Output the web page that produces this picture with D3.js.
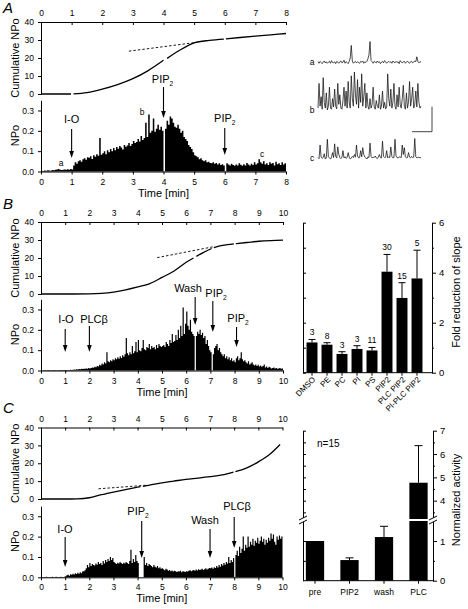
<!DOCTYPE html>
<html><head><meta charset="utf-8">
<script src="https://cdn.jsdelivr.net/npm/d3@7"></script>
<style>
body{margin:0;background:#fff}
svg{display:block}
text{font-family:"Liberation Sans",Arial,Helvetica,sans-serif;fill:#000}
</style>
</head><body>
<svg id="chart" width="468" height="609"></svg>
<script>
// ---------------- DATA ----------------
const binMin = 0.05; // bin width of NPo histograms (min)

const npoA = [
0.004,0.003,0.005,0.004,0.006,0.005,0.004,0.007,0.006,0.008,0.010,0.012,0.009,0.007,0.008,0.010,0.009,0.011,0.008,0.012,
0.010,0.030,0.045,0.038,0.050,0.055,0.048,0.060,0.065,0.058,0.070,0.068,0.075,0.062,0.080,0.072,0.085,0.078,0.165,0.082,
0.090,0.100,0.085,0.105,0.095,0.110,0.100,0.115,0.105,0.120,0.112,0.125,0.118,0.108,0.130,0.122,0.128,0.140,0.125,0.135,
0.150,0.140,0.145,0.160,0.148,0.175,0.155,0.165,0.240,0.170,0.280,0.190,0.200,0.260,0.195,0.210,0.230,0.205,0.220,0.200,
0.000,0.210,0.250,0.230,0.270,0.260,0.240,0.220,0.215,0.230,0.210,0.190,0.200,0.170,0.160,0.150,0.130,0.120,0.110,0.095,
0.080,0.075,0.070,0.060,0.065,0.055,0.050,0.055,0.045,0.048,0.042,0.040,0.045,0.038,0.042,0.035,0.040,0.032,0.036,0.030,
0.000,0.040,0.035,0.030,0.038,0.032,0.028,0.035,0.030,0.040,0.033,0.028,0.036,0.030,0.042,0.034,0.030,0.038,0.032,0.045,
0.035,0.040,0.060,0.045,0.038,0.050,0.035,0.040,0.032,0.045,0.038,0.042,0.030,0.048,0.036,0.040,0.032,0.045,0.035,0.040];

const npoB = [
0.002,0.001,0.002,0.002,0.001,0.002,0.003,0.002,0.001,0.002,0.002,0.003,0.002,0.001,0.002,0.003,0.002,0.002,0.003,0.002,
0.002,0.003,0.002,0.003,0.004,0.003,0.004,0.005,0.004,0.006,0.005,0.007,0.006,0.008,0.007,0.009,0.008,0.010,0.009,0.012,
0.010,0.012,0.015,0.013,0.018,0.016,0.022,0.020,0.028,0.025,0.035,0.030,0.040,0.035,0.090,0.045,0.040,0.050,0.045,0.055,
0.050,0.060,0.055,0.065,0.058,0.070,0.062,0.075,0.068,0.080,0.160,0.085,0.075,0.090,0.080,0.120,0.085,0.095,0.140,0.090,
0.150,0.100,0.095,0.110,0.150,0.105,0.100,0.115,0.110,0.130,0.105,0.120,0.110,0.115,0.105,0.125,0.110,0.130,0.120,0.115,
0.120,0.125,0.115,0.140,0.130,0.120,0.150,0.135,0.180,0.140,0.145,0.175,0.150,0.200,0.160,0.220,0.170,0.310,0.180,0.230,
0.290,0.220,0.200,0.250,0.190,0.180,0.170,0.000,0.170,0.190,0.180,0.200,0.175,0.185,0.160,0.170,0.130,0.150,0.120,0.100,
0.090,0.000,0.080,0.110,0.120,0.130,0.100,0.110,0.090,0.080,0.070,0.080,0.060,0.070,0.055,0.065,0.050,0.060,0.045,0.050,
0.040,0.060,0.070,0.050,0.060,0.090,0.055,0.045,0.050,0.040,0.035,0.045,0.030,0.035,0.040,0.030,0.025,0.030,0.022,0.028,
0.020,0.025,0.018,0.022,0.030,0.015,0.020,0.012,0.018,0.015,0.010,0.012,0.015,0.010,0.012,0.008,0.010,0.012,0.008,0.010];

const npoC = [
0.002,0.002,0.001,0.002,0.003,0.002,0.002,0.001,0.002,0.003,0.002,0.002,0.003,0.002,0.001,0.002,0.003,0.002,0.002,0.003,
0.005,0.010,0.012,0.008,0.015,0.012,0.018,0.014,0.020,0.016,0.022,0.018,0.025,0.020,0.028,0.030,0.035,0.045,0.060,0.050,
0.070,0.055,0.065,0.060,0.058,0.068,0.062,0.075,0.065,0.070,0.060,0.080,0.068,0.085,0.075,0.090,0.080,0.100,0.085,0.095,
0.075,0.070,0.065,0.072,0.068,0.075,0.070,0.065,0.072,0.068,0.075,0.070,0.065,0.080,0.135,0.070,0.090,0.075,0.110,0.080,
0.070,0.000,0.000,0.000,0.000,0.100,0.060,0.070,0.055,0.065,0.060,0.055,0.050,0.060,0.052,0.048,0.055,0.045,0.050,0.042,
0.045,0.040,0.035,0.042,0.038,0.032,0.036,0.030,0.034,0.028,0.032,0.030,0.026,0.030,0.028,0.032,0.025,0.030,0.028,0.026,
0.030,0.028,0.032,0.035,0.030,0.033,0.036,0.032,0.038,0.034,0.040,0.036,0.038,0.042,0.036,0.040,0.044,0.038,0.042,0.046,
0.044,0.048,0.042,0.050,0.046,0.055,0.048,0.060,0.052,0.065,0.058,0.070,0.062,0.075,0.068,0.100,0.070,0.085,0.075,0.095,
0.000,0.110,0.130,0.105,0.150,0.120,0.140,0.200,0.130,0.160,0.145,0.200,0.150,0.175,0.160,0.190,0.155,0.180,0.170,0.195,
0.165,0.180,0.200,0.175,0.190,0.160,0.185,0.170,0.195,0.180,0.215,0.190,0.210,0.175,0.160,0.200,0.185,0.205,0.190,0.200];

// cumulative NPo (null = break in the trace)
const cumTimeA = [0,0.5,0.98,1.0,1.06,1.5,2,2.5,3,3.5,4.0,4.04,4.12,4.5,5,5.5,5.97,6.0,6.04,6.5,7,7.5,8];
const cumA     = [0,0,0,null,0.05,0.8,2.7,5.2,8.5,13,18.7,null,19.8,24,28.4,29.8,30.5,null,30.6,31.4,32.2,32.9,33.6];
const cumTimeB = [0,1,2,2.5,3,3.5,4,4.5,5,5.5,6,6.3,6.35,6.42,6.7,7.05,7.08,7.14,7.5,7.97,8.0,8.05,8.5,9,9.5,10];
const cumB     = [0,0,0.1,0.4,1.1,2.3,3.9,5.8,9.2,12.8,17.6,20.0,null,20.9,23.0,25.3,null,25.8,27,27.9,null,28,28.6,29.3,29.7,29.9];
const cumTimeC = [0,1,1.5,2,2.5,3,3.5,4,4.12,4.15,4.22,4.5,5,5.5,6,6.5,7,7.5,7.97,8.0,8.05,8.5,9,9.5,9.9];
const cumC     = [0,0,0.1,0.7,2.4,3.9,5.3,6.6,6.9,null,7.1,7.8,9,10,11,11.7,12.5,13.5,15.1,null,15.3,17.3,20.8,25.3,30.5];

// dashed slope fits [t0, v0, t1, v1]
const fitA = [2.87, 23.8, 5.0, 28.5];
const fitB = [4.8, 20.2, 7.1, 26.2];
const fitC = [2.38, 5.7, 4.35, 7.7];

// single-channel traces a, b, c (arbitrary units)
const traceA = [
0.02,-0.02,0.03,0,-0.03,0.01,0.04,-0.01,0.02,-0.02,
0.01,0.03,-0.02,0.05,0,-0.01,0.02,-0.03,0.03,0.01,
-0.02,0.02,0.04,-0.01,0.01,0.06,-0.02,0.02,0,-0.03,
0.03,0.12,0.45,0.04,-0.02,0.01,0.03,-0.01,0.02,0,
-0.02,0.03,0.01,0.04,-0.02,0.02,0,0.03,0.1,0.2,
0.55,0.05,0.02,-0.02,0.03,0.01,-0.01,0.04,0,0.02,
-0.03,0.01,0.03,-0.01,0.05,0.02,-0.02,0.01,0.03,0,
0.02,-0.02,0.04,0.01,-0.01,0.03,0,0.02,-0.03,0.05,
0.01,-0.01,0.02,0.03,-0.02,0.01,0.04,0,-0.02,0.02,
0.03,-0.01,0.01,0.04,0.02,0.15,0.03,-0.01,0.02,0.01];
const traceB = [
0.05,0.7,0.1,0.35,0.02,0.85,0.2,0.05,0.45,0.0,
0.1,0.6,0.05,0.02,0.3,0.08,0.55,0.1,0.03,0.7,
0.15,0.4,0.05,0.02,0.25,0.6,0.1,0.5,0.05,0.75,
0.2,0.05,0.9,0.3,0.1,1.0,0.4,0.15,0.8,0.05,
0.6,0.2,0.95,0.1,0.35,0.7,0.05,0.45,0.1,0.02,
0.3,0.05,0.15,0.6,0.08,0.02,0.25,0.1,0.05,0.4,
0.02,0.1,0.5,0.05,0.2,0.03,0.08,0.95,0.3,0.1,
0.55,0.05,0.2,0.7,0.1,0.02,0.4,0.08,0.6,0.15,
0.05,0.3,0.65,0.1,0.02,0.45,0.05,0.2,0.75,0.1,
0.3,0.6,0.05,0.15,0.5,0.08,0.7,0.2,0.05,0.1];
const traceC = [
0.02,-0.01,0.35,0.03,0,0.02,0.12,-0.02,0.01,0.5,
0.04,0.01,-0.02,0.03,0.15,0.02,0.38,0.05,0.01,0.3,
0.1,0.02,-0.01,0.03,0.2,0.01,0.04,0,0.02,0.15,
0.03,-0.02,0.01,0.05,0.02,0.1,0.03,0.35,0.06,0.01,
0.02,0.2,0.04,0.28,0.1,0.03,0.01,-0.02,0.04,0.02,
0.4,0.05,0.01,0.03,0.02,0.06,0.01,-0.01,0.03,0.1,
0.02,0.01,0.45,0.05,0.02,0.03,0.2,0.01,0.04,0.02,
0.3,0.05,0.01,0.02,0.5,0.06,0.02,0.01,0.04,0.03,
0.02,0.35,0.1,0.28,0.04,0.01,0.02,0.15,0.03,0.01,
0.05,0.02,0.03,0.52,0.04,0.01,0.02,0.03,0.01,0.02];

// B summary bar chart
const slopeCats = ["DMSO","PE","PC","PI","PS","PIP2","PLC PIP2","PI-PLC PIP2"];
const slopeVals = [1.21,1.12,0.75,0.95,0.89,4.04,2.99,3.77];
const slopeErr  = [0.12,0.08,0.09,0.13,0.12,0.69,0.61,1.13];
const slopeN    = ["3","8","3","3","11","30","15","5"];

// C summary bar chart (broken axis)
const actCats = ["pre","PIP2","wash","PLC"];
const actVals = [1.0,0.52,1.1,4.77];
const actErr  = [0,0.055,0.27,1.59];

const timeTicksA = [0,1,2,3,4,5,6,7,8];
const timeTicksBC = [0,1,2,3,4,5,6,7,8,9,10];
const cumTicks = [0,10,20,30,40];
const npoTicks = [0,0.1,0.2,0.3];

// ---------------- DRAW ----------------
const svg = d3.select("#chart");
svg.append("rect").attr("width",468).attr("height",609).attr("fill","#fff");
const FS = 8.5;
const fmtInt = d3.format("d");

function styleAxis(g){
  g.selectAll("path.domain").attr("stroke","#000").attr("stroke-width",1);
  g.selectAll(".tick line").attr("stroke","#000").attr("stroke-width",1);
  g.selectAll("text").attr("font-size",FS).attr("font-family","Liberation Sans, Arial, sans-serif").attr("fill","#000");
}
function label(g, txt, x, y, size, anchor, sub){
  const t = g.append("text").attr("x",x).attr("y",y).attr("font-size",size)
    .attr("text-anchor",anchor||"middle");
  t.append("tspan").text(txt);
  if (sub) t.append("tspan").attr("font-size",size*0.6).attr("dy",2.5).text(sub);
  return t;
}
function arrow(g, x, y1, y2){
  g.append("line").attr("x1",x).attr("x2",x).attr("y1",y1).attr("y2",y2-5)
    .attr("stroke","#000").attr("stroke-width",1.1);
  g.append("path").attr("d",`M${x-2.3},${y2-7}L${x+2.3},${y2-7}L${x},${y2}Z`).attr("fill","#000");
}

function timePanel(o){
  const g = svg.append("g");
  const x = d3.scaleLinear().domain([0,o.tmax]).range([41,o.xr]);
  const yc = d3.scaleLinear().domain([0,40]).range([o.cumBottom,o.top]);
  const yn = d3.scaleLinear().domain([0,0.35]).range([o.npoBottom,o.npoBottom-71.2]);

  g.append("g").attr("transform",`translate(0,${o.top})`)
    .call(d3.axisTop(x).tickValues(o.ticks).tickFormat(fmtInt).tickSizeInner(-3).tickSizeOuter(0).tickPadding(6))
    .call(styleAxis);
  g.append("g").attr("transform",`translate(41,0)`)
    .call(d3.axisLeft(yc).tickValues(cumTicks).tickSize(3).tickSizeOuter(0).tickPadding(4))
    .call(styleAxis);
  g.append("g").attr("transform",`translate(41,0)`)
    .call(d3.axisLeft(yn).tickValues(npoTicks).tickFormat(d3.format(".1f")).tickSize(3).tickSizeOuter(0).tickPadding(4))
    .call(styleAxis);
  g.append("g").attr("transform",`translate(0,${o.npoBottom})`)
    .call(d3.axisBottom(x).tickValues(o.ticks).tickFormat(fmtInt).tickSize(3).tickSizeOuter(0).tickPadding(4))
    .call(styleAxis);

  const pts = o.npo.map((v,i)=>({t:i*binMin,v:v}));
  pts.push({t:o.npo.length*binMin, v:o.npo[o.npo.length-1]});
  const area = d3.area().x(d=>x(d.t)).y0(yn(0)).y1(d=>yn(d.v)).curve(d3.curveStepAfter);
  g.append("path").datum(pts).attr("d",area).attr("fill","#000");

  const cpts = o.cumT.map((t,i)=>({t:t,v:o.cum[i]}));
  const line = d3.line().defined(d=>d.v!==null).x(d=>x(d.t)).y(d=>yc(d.v)).curve(d3.curveMonotoneX);
  g.append("path").datum(cpts).attr("d",line).attr("fill","none").attr("stroke","#000").attr("stroke-width",1.3);
  g.append("line").attr("x1",x(o.fit[0])).attr("y1",yc(o.fit[1])).attr("x2",x(o.fit[2])).attr("y2",yc(o.fit[3]))
    .attr("stroke","#000").attr("stroke-width",0.9).attr("stroke-dasharray","2.5,2");

  label(g,"Cumulative NPo",0,0,11).attr("transform",`translate(${o.ylx},${(o.top+o.cumBottom)/2}) rotate(-90)`).attr("dy","0.35em");
  label(g,"NPo",0,0,11).attr("transform",`translate(${o.ylx},${o.npoBottom-36}) rotate(-90)`).attr("dy","0.35em");
  label(g,"Time [min]",(41+o.xr)/2,o.npoBottom+25,11);
  svg.append("text").attr("x",3).attr("y",o.letterY).attr("font-size",15).attr("font-style","italic").text(o.letter);
  return {g,x,yc,yn};
}

// ----- Panel A -----
const A = timePanel({tmax:8,xr:286,top:22,cumBottom:94,npoBottom:171.5,ticks:timeTicksA,npo:npoA,
  cumT:cumTimeA,cum:cumA,fit:fitA,ylx:15,letter:"A",letterY:13});
label(A.g,"I-O",A.x(1),123,11); arrow(A.g,A.x(1),129,158);
label(A.g,"PIP",A.x(4)-1,83,11,"middle","2"); arrow(A.g,A.x(4),87,118);
label(A.g,"PIP",A.x(6),122,11,"middle","2"); arrow(A.g,A.x(6),128,155);
label(A.g,"a",61,166,FS); label(A.g,"b",142,115,FS); label(A.g,"c",262,157,FS);

// traces
const tx = d3.scaleLinear().domain([0,traceA.length-1]).range([318,421]);
function trace(data, base){
  const ty = d3.scaleLinear().domain([0,1]).range([base,base-38]);
  svg.append("path").datum(data).attr("d",d3.line().x((d,i)=>tx(i)).y(d=>ty(d)))
    .attr("fill","none").attr("stroke","#111").attr("stroke-width",0.75);
}
trace(traceA,62.5); trace(traceB,110); trace(traceC,158.3);
label(svg,"a",312,65,FS); label(svg,"b",312,113,FS); label(svg,"c",312,161,FS);
svg.append("path").attr("d","M432,106.7V131.7H412").attr("fill","none").attr("stroke","#444").attr("stroke-width",1);

// ----- Panel B -----
const B = timePanel({tmax:10,xr:283,top:222,cumBottom:294,npoBottom:370.5,ticks:timeTicksBC,npo:npoB,
  cumT:cumTimeB,cum:cumB,fit:fitB,ylx:15,letter:"B",letterY:209});
label(B.g,"I-O",66,323,11); arrow(B.g,B.x(1),329,352);
label(B.g,"PLCβ",94,323,11); arrow(B.g,B.x(2),326,352);
label(B.g,"Wash",188,292,11); arrow(B.g,B.x(6.37),297,325);
label(B.g,"PIP",216,297,11,"middle","2"); arrow(B.g,B.x(7.1),301,332);
label(B.g,"PIP",238,322,11,"middle","2"); arrow(B.g,B.x(8.08),327,347);

// B bar chart
{
  const g = svg.append("g");
  const xb = d3.scaleBand().domain(slopeCats).range([304.5,424.5]).paddingInner(0.27).paddingOuter(0.135);
  const y = d3.scaleLinear().domain([0,6]).range([372.7,222.7]);
  g.append("g").attr("transform","translate(303,0)")
    .call(d3.axisRight(y).tickValues([0,1,2,3,4,5,6]).tickSize(3).tickSizeOuter(0).tickFormat(""))
    .call(styleAxis);
  g.append("g").attr("transform","translate(432,0)")
    .call(d3.axisRight(y).tickValues([1,3,5]).tickSize(2).tickSizeOuter(0).tickFormat(""))
    .call(styleAxis);
  g.append("g").attr("transform","translate(432,0)")
    .call(d3.axisRight(y).tickValues([0,2,4,6]).tickFormat(fmtInt).tickSize(4).tickSizeOuter(0).tickPadding(3))
    .call(styleAxis).selectAll("text").attr("font-size",9.5);
  const bx = g.append("g").attr("transform","translate(0,372.7)")
    .call(d3.axisBottom(xb).tickSize(3).tickSizeOuter(0).tickFormat(""))
    .call(styleAxis);
  bx.select("path.domain").attr("d","M303,0H432");
  g.selectAll("rect.bar").data(slopeVals).join("rect")
    .attr("x",(d,i)=>xb(slopeCats[i])).attr("width",xb.bandwidth())
    .attr("y",d=>y(d)).attr("height",d=>y(0)-y(d)).attr("fill","#000");
  slopeVals.forEach((v,i)=>{
    const cx = xb(slopeCats[i])+xb.bandwidth()/2;
    const top = y(v+slopeErr[i]);
    g.append("line").attr("x1",cx).attr("x2",cx).attr("y1",y(v)).attr("y2",top).attr("stroke","#000").attr("stroke-width",1);
    g.append("line").attr("x1",cx-3.5).attr("x2",cx+3.5).attr("y1",top).attr("y2",top).attr("stroke","#000").attr("stroke-width",1);
    label(g,slopeN[i],cx,top-4,FS);
    g.append("text").attr("transform",`translate(${cx+2},${378}) rotate(-45)`).attr("text-anchor","end")
      .attr("dy","0.35em").attr("font-size",8).text(slopeCats[i]);
  });
  label(g,"Fold reduction of slope",0,0,11).attr("transform","translate(456,292) rotate(-90)").attr("dy","0.35em");
}

// ----- Panel C -----
const C = timePanel({tmax:10,xr:282.5,top:427.5,cumBottom:499,npoBottom:577.3,ticks:timeTicksBC,npo:npoC,
  cumT:cumTimeC,cum:cumC,fit:fitC,ylx:15,letter:"C",letterY:413});
label(C.g,"I-O",65,533,11); arrow(C.g,C.x(1),537,567);
label(C.g,"PIP",138,515,11,"middle","2"); arrow(C.g,C.x(4.17),521,558);
label(C.g,"Wash",205,524,11); arrow(C.g,C.x(7),529,558);
label(C.g,"PLCβ",237,510,11); arrow(C.g,C.x(8),517,548);

// C bar chart with broken axis
{
  const g = svg.append("g");
  const brk = 520;
  const yLo = d3.scaleLinear().domain([0,1]).range([580.7,541]);
  const yHi = d3.scaleLinear().domain([4,7]).range([500.7,430.7]);
  const loMax = yLo.invert(brk), hiMin = yHi.invert(brk);
  const yv = v => v <= loMax ? yLo(v) : yHi(Math.max(v,hiMin));
  const xb = d3.scaleBand().domain(actCats).range([297.75,435.75]).paddingInner(0.47).paddingOuter(0.235);
  const loS = yLo.copy().domain([0,loMax]).range([580.7,brk]);
  const hiS = yHi.copy().domain([hiMin,7]).range([brk,430.7]);
  // left frame (inward ticks)
  g.append("g").attr("transform","translate(303,0)").call(d3.axisRight(loS).tickValues([0.5,1]).tickSize(3).tickSizeOuter(0).tickFormat("")).call(styleAxis);
  g.append("g").attr("transform","translate(303,0)").call(d3.axisRight(hiS).tickValues([3.5,4,4.5,5,5.5,6,6.5,7]).tickSize(3).tickSizeOuter(0).tickFormat("")).call(styleAxis);
  // right axis
  g.append("g").attr("transform","translate(433,0)").call(d3.axisRight(loS).tickValues([0.5]).tickSize(2).tickSizeOuter(0).tickFormat("")).call(styleAxis);
  g.append("g").attr("transform","translate(433,0)").call(d3.axisRight(hiS).tickValues([3.5,4.5,5.5,6.5]).tickSize(2).tickSizeOuter(0).tickFormat("")).call(styleAxis);
  g.append("g").attr("transform","translate(433,0)").call(d3.axisRight(loS).tickValues([0,1]).tickFormat(fmtInt).tickSize(4).tickSizeOuter(0).tickPadding(3)).call(styleAxis).selectAll("text").attr("font-size",9.5);
  g.append("g").attr("transform","translate(433,0)").call(d3.axisRight(hiS).tickValues([4,5,6,7]).tickFormat(fmtInt).tickSize(4).tickSizeOuter(0).tickPadding(3)).call(styleAxis).selectAll("text").attr("font-size",9.5);

  const bx = g.append("g").attr("transform","translate(0,580.7)")
    .call(d3.axisBottom(xb).tickSize(3).tickSizeOuter(0).tickPadding(5))
    .call(styleAxis);
  bx.select("path.domain").attr("d","M303,0H433");
  bx.selectAll("text").attr("font-size",8.5);
  actVals.forEach((v,i)=>{
    const x0 = xb(actCats[i]), w = xb.bandwidth(), cx = x0+w/2;
    g.append("rect").attr("x",x0).attr("width",w).attr("y",yv(v)).attr("height",580.7-yv(v)).attr("fill","#000");
    if (v > loMax) g.append("rect").attr("x",x0-1).attr("width",w+2).attr("y",brk-1).attr("height",2).attr("fill","#fff");
    if (actErr[i]>0){
      const top = yv(v+actErr[i]);
      g.append("line").attr("x1",cx).attr("x2",cx).attr("y1",yv(v)).attr("y2",top).attr("stroke","#000");
      g.append("line").attr("x1",cx-4).attr("x2",cx+4).attr("y1",top).attr("y2",top).attr("stroke","#000");
    }
  });
  [303,433].forEach(ax=>{
    g.append("rect").attr("x",ax-2).attr("y",brk-2).attr("width",4).attr("height",4).attr("fill","#fff");
    [-2,2].forEach(o=>g.append("line").attr("x1",ax-4).attr("x2",ax+4).attr("y1",brk+o+2).attr("y2",brk+o-2)
      .attr("stroke","#000").attr("stroke-width",1));
  });
  label(g,"n=15",317,447,10,"start");
  label(g,"Normalized activity",0,0,11).attr("transform","translate(456,500) rotate(-90)").attr("dy","0.35em");
}
</script>
</body></html>
